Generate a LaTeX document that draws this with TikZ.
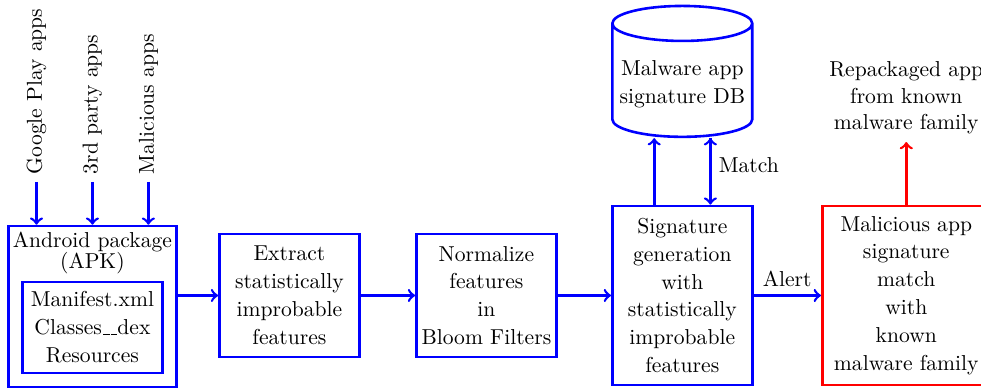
\documentclass[tikz,border=0pt]{standalone}
\usetikzlibrary{positioning}
\usetikzlibrary{shapes.geometric}
\tikzset{block/.style={shape=rectangle,
    draw=blue, very thick, align=center, inner sep=2pt,
    minimum width=64.8pt, minimum height=57pt,
    font=\fontsize{10pt}{12.9pt}\selectfont}}
\tikzset{alert block/.style={block, draw=red,
    minimum width=77.8pt, minimum height=82.9pt}}
\tikzset{db node/.style={shape=cylinder, shape border rotate=90, aspect=0.25,
    draw=blue, very thick, align=center,
    minimum width=64.8pt, minimum height=60.6pt,
    font=\fontsize{10pt}{12.9pt}\selectfont}}
\tikzset{source/.style={rotate=90, anchor=west}}
\newcommand{\uscore}{\leavevmode\kern.06em\vbox{\hrule width.3em}}

\begin{document}
\begin{tikzpicture}
    \useasboundingbox (0,0) rectangle (454.2pt,-180.1pt);

    \node[block] (ext) at (134pt,-136.8pt) {Extract\\statistically\\improbable\\features};
    \node[block] (norm) [right = 25.2pt of ext] {Normalize\\features\\in\\Bloom Filters};
    \node[block, minimum height=82.9pt] (sig) [right = 24.7pt of norm] {Signature\\generation\\with\\statistically\\improbable\\features};
    \node[alert block] (mal) [right = 31.2pt of sig] {Malicious app\\signature\\match\\with\\known\\malware family};

    \node[db node] (db) [above = 30.8pt of sig] {Malware app\\signature DB};
    \node[align=center, font=\fontsize{10pt}{12.3pt}\selectfont] (rep) [above = 29pt of mal] {Repackaged app\\from known\\malware family};

    % apk with its files
    \node[block, minimum width=77.8pt, minimum height=74.5pt, yshift=-5.1pt] (apk) [left = 18.7pt of ext] {};
    \node[align=center] (apkname) [below = 0pt of apk.north] {Android package\\[-2.6pt](APK)};
    \node[block, inner sep=3.5pt, minimum width=64.8pt, minimum height=42.1pt] (files) [above = 6.5pt of apk.south] {Manifest.xml\\Classes\uscore\uscore dex\\Resources};

    \node[source] (gplay) at ([xshift=-25.9pt, yshift=19.9pt]apk.north) {Google Play apps};
    \node[source] (third) at ([yshift=19.9pt]apk.north) {3rd party apps};
    \node[source] (malapps) at ([xshift=25.9pt, yshift=19.9pt]apk.north) {Malicious apps};

    \path[draw,very thick,blue,->]
    (gplay.west) edge node {} (gplay.west |- apk.north)
    (third.west) edge node {} (third.west |- apk.north)
    (malapps.west) edge node {} (malapps.west |- apk.north)

    (apk.east |- ext.west) edge node {} (ext.west)
    (ext) edge node {} (norm)
    (norm) edge node {} (sig)
    (sig) edge node[above, text=black] {Alert} (mal)

    ([xshift=-13pt]sig.north) edge node {} ([xshift=-13pt]sig.north |- db.south)
    ([xshift=13pt]db.south) edge node[right, pos=0.4, text=black] {Match} ([xshift=13pt]sig.north)
    ;
    \draw[very thick,red,->] (mal) -- (rep);
\end{tikzpicture}
\end{document}
